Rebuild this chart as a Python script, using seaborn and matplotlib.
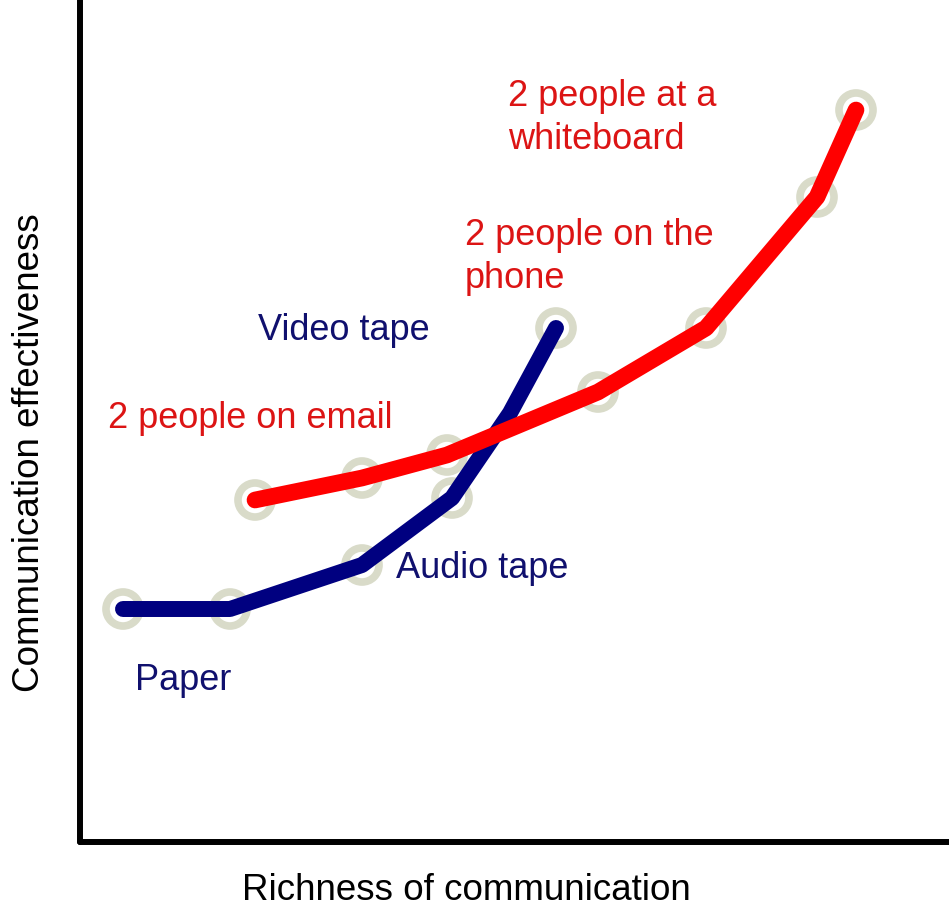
import matplotlib
matplotlib.use("Agg")
import matplotlib.pyplot as plt
import seaborn as sns
import pandas as pd

# Data (arbitrary units)
blue_x = [43, 150, 282, 372, 430, 476]
blue_y = [233, 233, 277, 344, 429, 514]
blue_marker = [True, True, True, True, False, True]

red_x = [175, 282, 367, 518, 626, 737, 776]
red_y = [342, 364, 387, 450, 514, 645, 732]

blue_labels = ["Paper", "Audio tape", "Video tape"]
blue_label_pos = [(55, 162), (316, 273), (178, 511)]
red_labels = ["2 people on email", "2 people on the\nphone", "2 people at a\nwhiteboard"]
red_label_pos = [(28, 423), (385, 585), (428, 724)]

NAVY = "#000080"
RED = "#ff0000"
NAVY_TXT = "#10106e"
RED_TXT = "#dc1414"
RING = "#d9dbc9"

sns.set_theme(style="white")
plt.rcParams["font.family"] = ["Liberation Sans", "DejaVu Sans"]

W, H = 949, 919
fig = plt.figure(figsize=(W / 100, H / 100), dpi=100)
ax = fig.add_axes([80 / W, (H - 842) / H, 869 / W, 842 / H])
ax.set_xlim(0, 869)
ax.set_ylim(0, 842)

blue_df = pd.DataFrame({"x": blue_x, "y": blue_y, "m": blue_marker})
red_df = pd.DataFrame({"x": red_x, "y": red_y})

ring_kw = dict(marker="o", s=600, facecolors="none", edgecolor=RING,
               linewidth=5.5, zorder=1)
sns.scatterplot(data=blue_df[blue_df["m"]], x="x", y="y", ax=ax, **ring_kw)
sns.scatterplot(data=red_df, x="x", y="y", ax=ax, **ring_kw)

sns.lineplot(data=blue_df, x="x", y="y", ax=ax, color=NAVY, linewidth=11.5,
             sort=False, solid_capstyle="round", solid_joinstyle="round", zorder=3)
sns.lineplot(data=red_df, x="x", y="y", ax=ax, color=RED, linewidth=12,
             sort=False, solid_capstyle="round", solid_joinstyle="round", zorder=4)

for t, (x, y) in zip(blue_labels, blue_label_pos):
    ax.text(x, y, t, color=NAVY_TXT, fontsize=26, ha="left", va="center")
for t, (x, y) in zip(red_labels, red_label_pos):
    ax.text(x, y, t, color=RED_TXT, fontsize=26, ha="left", va="center",
            linespacing=1.28)

for s in ["top", "right"]:
    ax.spines[s].set_visible(False)
for s in ["left", "bottom"]:
    ax.spines[s].set_linewidth(4.3)
    ax.spines[s].set_color("black")
    ax.spines[s].set_capstyle("round")
ax.set_xticks([])
ax.set_yticks([])
ax.set_xlabel("")
ax.set_ylabel("")

fig.text(466 / W, 1 - 890 / H, "Richness of communication", fontsize=26.5,
         ha="center", va="center", color="black")
fig.text(30 / W, 1 - 453 / H, "Communication effectiveness", fontsize=26.5,
         ha="center", va="center", rotation=90, color="black")

fig.savefig("out.png", dpi=100, facecolor="white")
